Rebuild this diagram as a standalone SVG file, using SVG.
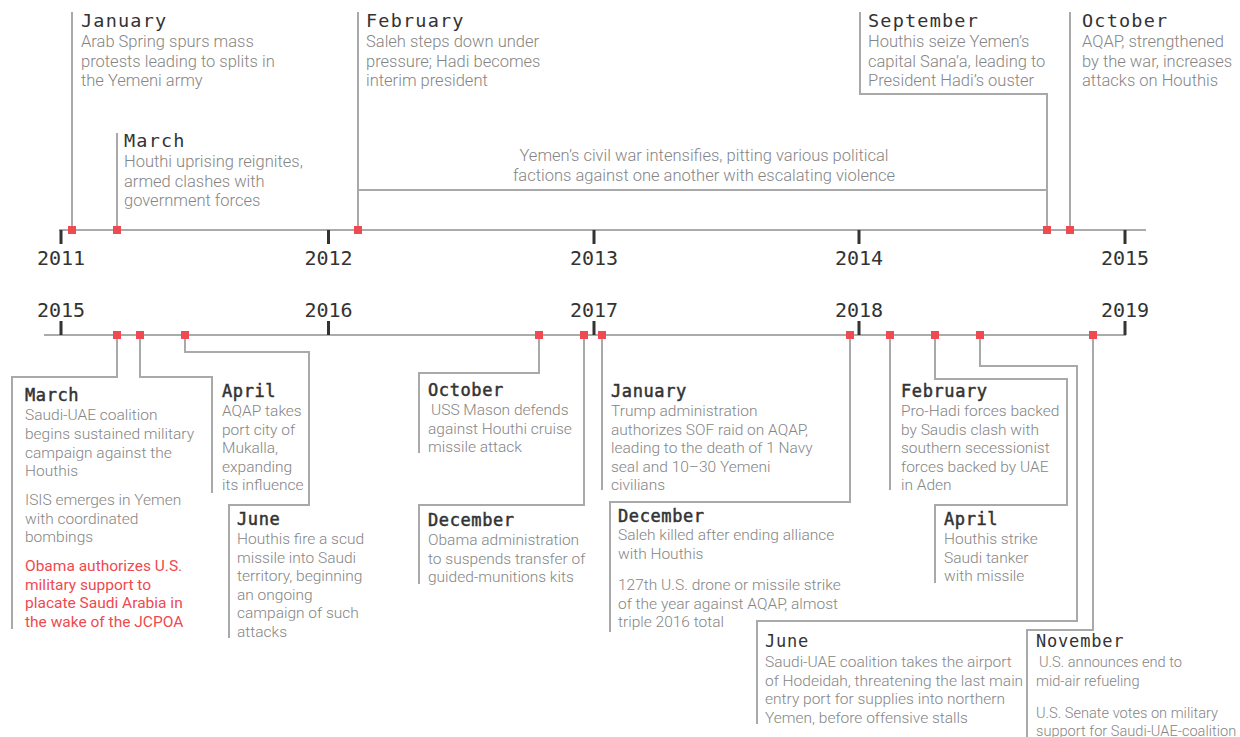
<svg xmlns="http://www.w3.org/2000/svg" width="1240" height="737" viewBox="0 0 1240 737">
<style>
.axis{stroke:#ababab;stroke-width:2;fill:none}
.con{stroke:#a9a9a9;stroke-width:2;fill:none}
.tick{stroke:#333;stroke-width:3}
.sq{fill:#ee4a50}
.yr{font-family:"DejaVu Sans Mono",monospace;font-size:20px;fill:#333;text-anchor:middle}
.mt{font-family:"DejaVu Sans Mono",monospace;font-size:18.5px;fill:#333;letter-spacing:1.2px}
.mb{font-family:"DejaVu Sans Mono",monospace;font-size:17px;fill:#333;stroke:#333;stroke-width:0.5px;letter-spacing:0.6px}
.mn{font-family:"DejaVu Sans Mono",monospace;font-size:17px;fill:#333;letter-spacing:0.8px}
.b{font-family:Roboto,"Liberation Sans",sans-serif;font-weight:300;font-size:15.5px;fill:#858585}
.t{font-size:16.5px}
.s{font-size:14.6px}
.r{font-family:Roboto,"Liberation Sans",sans-serif;font-weight:400;font-size:15.5px;fill:#ee4a50}
.c{text-anchor:middle}
</style>
<rect width="1240" height="737" fill="#fff"/>
<g id="axes">
<path class="axis" d="M59,230H1146"/>
<path class="axis" d="M44,335H1126"/>
<path class="tick" d="M61,230V244M328.5,230V244M594,230V244M859,230V244M1125,230V244"/>
<path class="tick" d="M61,321V335M328.5,321V335M594,321V335M859,321V335M1125,321V335"/>
<text class="yr" x="61" y="265">2011</text>
<text class="yr" x="328.5" y="265">2012</text>
<text class="yr" x="594" y="265">2013</text>
<text class="yr" x="859" y="265">2014</text>
<text class="yr" x="1125" y="265">2015</text>
<text class="yr" x="61" y="317">2015</text>
<text class="yr" x="328.5" y="317">2016</text>
<text class="yr" x="594" y="317">2017</text>
<text class="yr" x="859" y="317">2018</text>
<text class="yr" x="1125" y="317">2019</text>
</g>
<g id="connectors">
<path class="con" d="M72,230V12"/>
<path class="con" d="M117,230V133"/>
<path class="con" d="M358,230V12M358,190H1047"/>
<path class="con" d="M1047,230V94H860V12"/>
<path class="con" d="M1070,230V12"/>
<path class="con" d="M117,335V377H12V629"/>
<path class="con" d="M140,335V377H212V493"/>
<path class="con" d="M185,335V352H309V505H229V638"/>
<path class="con" d="M539,335V373H419V453"/>
<path class="con" d="M584,335V505H419V584"/>
<path class="con" d="M602,335V490"/>
<path class="con" d="M850,335V502H610V632"/>
<path class="con" d="M890,335V490"/>
<path class="con" d="M935,335V379H1067V505H935V583"/>
<path class="con" d="M980,335V366H1077V621H757V724"/>
<path class="con" d="M1093,335V630H1027V737"/>
</g>
<g id="markers">
<rect class="sq" x="68" y="226" width="8" height="8"/>
<rect class="sq" x="113" y="226" width="8" height="8"/>
<rect class="sq" x="354" y="226" width="8" height="8"/>
<rect class="sq" x="1043" y="226" width="8" height="8"/>
<rect class="sq" x="1066" y="226" width="8" height="8"/>
<rect class="sq" x="113" y="331" width="8" height="8"/>
<rect class="sq" x="136" y="331" width="8" height="8"/>
<rect class="sq" x="181" y="331" width="8" height="8"/>
<rect class="sq" x="535" y="331" width="8" height="8"/>
<rect class="sq" x="580" y="331" width="8" height="8"/>
<rect class="sq" x="598" y="331" width="8" height="8"/>
<rect class="sq" x="846" y="331" width="8" height="8"/>
<rect class="sq" x="886" y="331" width="8" height="8"/>
<rect class="sq" x="931" y="331" width="8" height="8"/>
<rect class="sq" x="976" y="331" width="8" height="8"/>
<rect class="sq" x="1089" y="331" width="8" height="8"/>
</g>
<g id="jan-2011">
<text class="mt" x="81" y="27">January</text>
<text class="b t" x="81" y="47">Arab Spring spurs mass</text>
<text class="b t" x="81" y="66.5">protests leading to splits in</text>
<text class="b t" x="81" y="86">the Yemeni army</text>
</g>
<g id="mar-2011">
<text class="mt" x="124" y="147">March</text>
<text class="b t" x="124" y="167">Houthi uprising reignites,</text>
<text class="b t" x="124" y="186.5">armed clashes with</text>
<text class="b t" x="124" y="206">government forces</text>
</g>
<g id="feb-2012">
<text class="mt" x="366" y="27">February</text>
<text class="b t" x="366" y="47">Saleh steps down under</text>
<text class="b t" x="366" y="66.5">pressure; Hadi becomes</text>
<text class="b t" x="366" y="86">interim president</text>
</g>
<g id="civil-war">
<text class="b t c" x="704" y="161">Yemen’s civil war intensifies, pitting various political</text>
<text class="b t c" x="704" y="180.5">factions against one another with escalating violence</text>
</g>
<g id="sep-2014">
<text class="mt" x="868" y="27">September</text>
<text class="b t" x="868" y="47">Houthis seize Yemen’s</text>
<text class="b t" x="868" y="66.5">capital Sana’a, leading to</text>
<text class="b t" x="868" y="86">President Hadi’s ouster</text>
</g>
<g id="oct-2014">
<text class="mt" x="1082" y="27">October</text>
<text class="b t" x="1082" y="47">AQAP, strengthened</text>
<text class="b t" x="1082" y="66.5">by the war, increases</text>
<text class="b t" x="1082" y="86">attacks on Houthis</text>
</g>
<g id="mar-2015">
<text class="mb" x="25" y="401">March</text>
<text class="b" x="25" y="420">Saudi-UAE coalition</text>
<text class="b" x="25" y="439">begins sustained military</text>
<text class="b" x="25" y="457.5">campaign against the</text>
<text class="b" x="25" y="476">Houthis</text>
<text class="b" x="25" y="505">ISIS emerges in Yemen</text>
<text class="b" x="25" y="523.5">with coordinated</text>
<text class="b" x="25" y="542">bombings</text>
<text class="r" x="25" y="571">Obama authorizes U.S.</text>
<text class="r" x="25" y="589.5">military support to</text>
<text class="r" x="25" y="608">placate Saudi Arabia in</text>
<text class="r" x="25" y="626.5">the wake of the JCPOA</text>
</g>
<g id="apr-2015">
<text class="mb" x="222" y="397">April</text>
<text class="b" x="222" y="416">AQAP takes</text>
<text class="b" x="222" y="434.5">port city of</text>
<text class="b" x="222" y="453">Mukalla,</text>
<text class="b" x="222" y="471.5">expanding</text>
<text class="b" x="222" y="490">its influence</text>
</g>
<g id="jun-2015">
<text class="mb" x="237" y="525">June</text>
<text class="b" x="237" y="544">Houthis fire a scud</text>
<text class="b" x="237" y="562.5">missile into Saudi</text>
<text class="b" x="237" y="581">territory, beginning</text>
<text class="b" x="237" y="599.5">an ongoing</text>
<text class="b" x="237" y="618">campaign of such</text>
<text class="b" x="237" y="636.5">attacks</text>
</g>
<g id="oct-2016">
<text class="mb" x="428" y="396">October</text>
<text class="b" x="431" y="415">USS Mason defends</text>
<text class="b" x="428" y="433.5">against Houthi cruise</text>
<text class="b" x="428" y="452">missile attack</text>
</g>
<g id="dec-2016">
<text class="mb" x="428" y="526">December</text>
<text class="b" x="428" y="545">Obama administration</text>
<text class="b" x="428" y="563.5">to suspends transfer of</text>
<text class="b" x="428" y="582">guided-munitions kits</text>
</g>
<g id="jan-2017">
<text class="mb" x="611" y="397">January</text>
<text class="b" x="611" y="416">Trump administration</text>
<text class="b" x="611" y="434.5">authorizes SOF raid on AQAP,</text>
<text class="b" x="611" y="453">leading to the death of 1 Navy</text>
<text class="b" x="611" y="471.5">seal and 10–30 Yemeni</text>
<text class="b" x="611" y="490">civilians</text>
</g>
<g id="dec-2017">
<text class="mb" x="618" y="522">December</text>
<text class="b" x="618" y="540">Saleh killed after ending alliance</text>
<text class="b" x="618" y="558.5">with Houthis</text>
<text class="b" x="618" y="590">127th U.S. drone or missile strike</text>
<text class="b" x="618" y="608.5">of the year against AQAP, almost</text>
<text class="b" x="618" y="627">triple 2016 total</text>
</g>
<g id="feb-2018">
<text class="mb" x="901" y="397">February</text>
<text class="b" x="901" y="416">Pro-Hadi forces backed</text>
<text class="b" x="901" y="434.5">by Saudis clash with</text>
<text class="b" x="901" y="453">southern secessionist</text>
<text class="b" x="901" y="471.5">forces backed by UAE</text>
<text class="b" x="901" y="490">in Aden</text>
</g>
<g id="apr-2018">
<text class="mb" x="944" y="525">April</text>
<text class="b" x="944" y="544">Houthis strike</text>
<text class="b" x="944" y="562.5">Saudi tanker</text>
<text class="b" x="944" y="581">with missile</text>
</g>
<g id="jun-2018">
<text class="mn" x="765" y="647">June</text>
<text class="b" x="765" y="667">Saudi-UAE coalition takes the airport</text>
<text class="b" x="765" y="685.5">of Hodeidah, threatening the last main</text>
<text class="b" x="765" y="704">entry port for supplies into northern</text>
<text class="b" x="765" y="722.5">Yemen, before offensive stalls</text>
</g>
<g id="nov-2018">
<text class="mn" x="1036" y="647">November</text>
<text class="b s" x="1039" y="667">U.S. announces end to</text>
<text class="b s" x="1036" y="685.5">mid-air refueling</text>
<text class="b s" x="1036" y="717.5">U.S. Senate votes on military</text>
<text class="b s" x="1036" y="735.5">support for Saudi-UAE-coalition</text>
</g>
</svg>
